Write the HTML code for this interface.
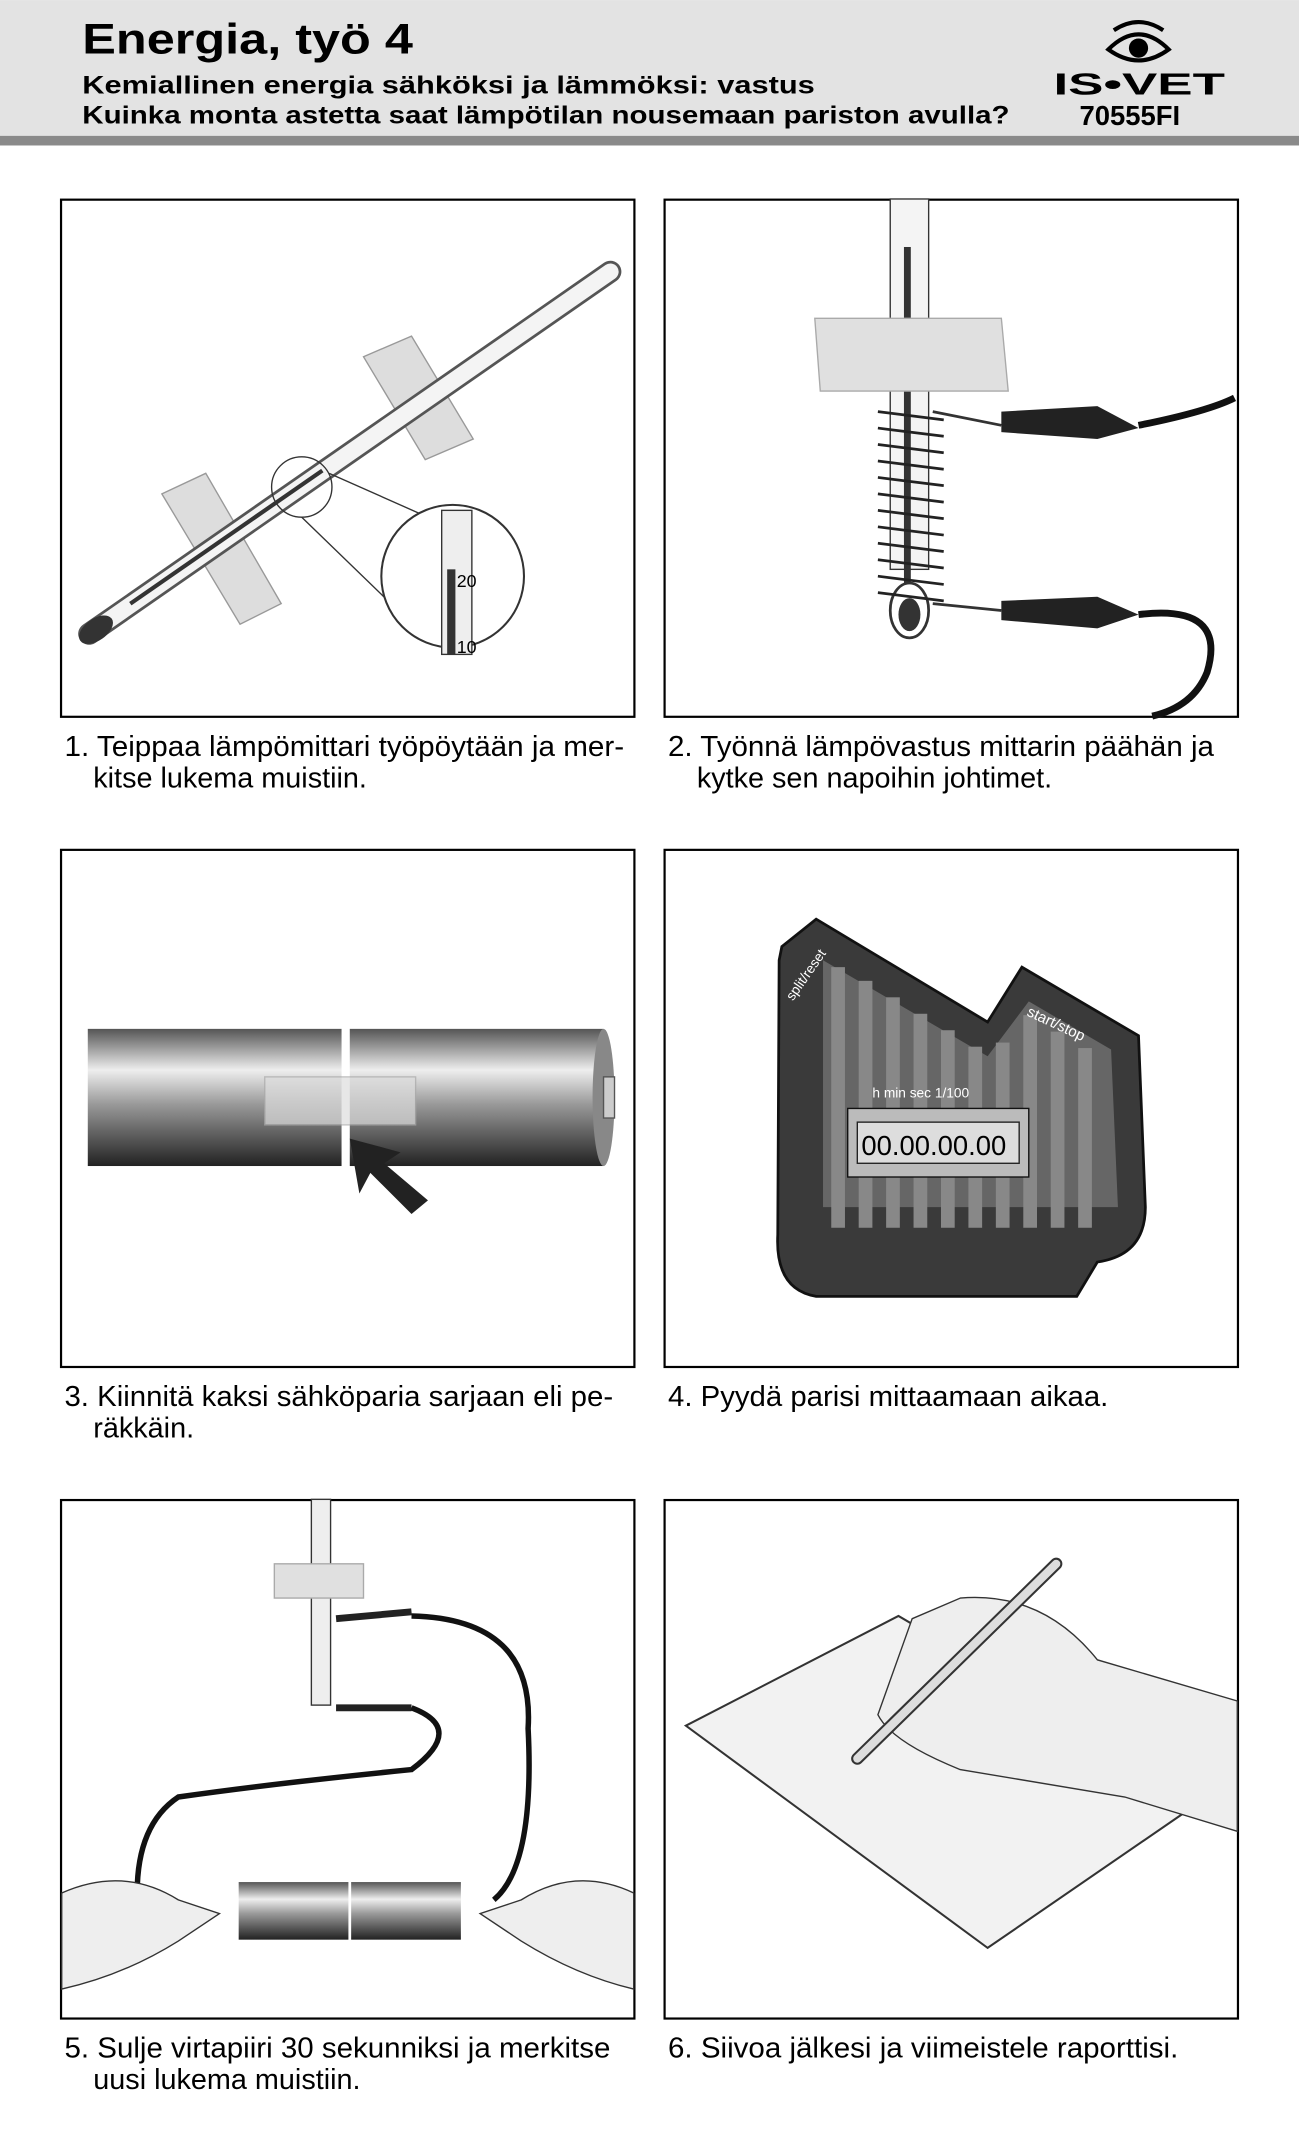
<!DOCTYPE html>
<html><head><meta charset="utf-8"><style>
html,body{margin:0;padding:0;background:#fff;}
svg{display:block;}
text{font-family:"Liberation Sans",Arial,sans-serif;}
</style></head><body>
<svg width="1299" height="2151" viewBox="0 0 947 1568" xmlns="http://www.w3.org/2000/svg">
<defs>
<linearGradient id="bat" x1="0" y1="0" x2="0" y2="1">
<stop offset="0" stop-color="#555"/><stop offset="0.3" stop-color="#eee"/><stop offset="0.55" stop-color="#999"/><stop offset="1" stop-color="#222"/>
</linearGradient>
</defs>
<rect x="0" y="0" width="947" height="100" fill="#e3e3e3"/>
<rect x="0" y="99" width="947" height="7" fill="#8a8a8a"/>
<text x="60" y="39" font-size="31" font-weight="bold" textLength="241" lengthAdjust="spacingAndGlyphs">Energia, työ 4</text>
<text x="60" y="68" font-size="18.5" font-weight="bold" textLength="534" lengthAdjust="spacingAndGlyphs">Kemiallinen energia sähköksi ja lämmöksi: vastus</text>
<text x="60" y="90" font-size="18.5" font-weight="bold" textLength="676" lengthAdjust="spacingAndGlyphs">Kuinka monta astetta saat lämpötilan nousemaan pariston avulla?</text>
<!-- logo -->
<path d="M808 36 Q830 14 852 36 Q830 52 808 36Z" fill="none" stroke="#000" stroke-width="3"/>
<circle cx="830" cy="35" r="7" fill="#000"/>
<path d="M812 22 Q830 10 848 22" fill="none" stroke="#000" stroke-width="3"/>
<text x="768" y="69" font-size="22" font-weight="bold" textLength="125" lengthAdjust="spacingAndGlyphs">IS•VET</text>
<text x="787" y="91" font-size="20" font-weight="bold">70555FI</text>

<g fill="none" stroke="#000" stroke-width="1.6">
<rect x="44.5" y="145.5" width="418" height="377"/>
<rect x="484.5" y="145.5" width="418" height="377"/>
<rect x="44.5" y="619.5" width="418" height="377"/>
<rect x="484.5" y="619.5" width="418" height="377"/>
<rect x="44.5" y="1093.5" width="418" height="378"/>
<rect x="484.5" y="1093.5" width="418" height="378"/>
</g>

<!-- panel 1 -->
<g>
<polygon points="118,360 150,345 205,440 175,455" fill="#ddd" stroke="#999"/>
<polygon points="265,260 300,245 345,320 310,335" fill="#ddd" stroke="#999"/>
<line x1="65" y1="462" x2="445" y2="198" stroke="#555" stroke-width="16" stroke-linecap="round"/>
<line x1="65" y1="462" x2="445" y2="198" stroke="#f4f4f4" stroke-width="12" stroke-linecap="round"/>
<ellipse cx="70" cy="459" rx="14" ry="8" transform="rotate(-35 70 459)" fill="#333"/>
<line x1="95" y1="440" x2="235" y2="343" stroke="#333" stroke-width="3"/>
<circle cx="220" cy="355" r="22" fill="none" stroke="#333"/>
<line x1="240" y1="345" x2="330" y2="385" stroke="#333"/>
<line x1="220" y1="377" x2="285" y2="440" stroke="#333"/>
<circle cx="330" cy="420" r="52" fill="#fff" stroke="#333" stroke-width="1.5"/>
<rect x="322" y="372" width="22" height="105" fill="#eee" stroke="#333"/>
<rect x="326" y="415" width="6" height="62" fill="#333"/>
<text x="333" y="428" font-size="13">20</text>
<text x="333" y="476" font-size="13">10</text>
</g>
<!-- panel 2 -->
<g>
<rect x="649" y="145" width="28" height="270" fill="#f4f4f4" stroke="#333"/>
<rect x="659" y="180" width="5" height="250" fill="#333"/>
<ellipse cx="663" cy="445" rx="14" ry="20" fill="#fff" stroke="#333" stroke-width="2"/>
<ellipse cx="663" cy="448" rx="8" ry="12" fill="#333"/>
<path d="M594 232 L730 232 L735 285 L598 285Z" fill="#e0e0e0" stroke="#aaa"/>
<g stroke="#222" stroke-width="2">
<line x1="640" y1="300" x2="688" y2="306"/><line x1="640" y1="312" x2="688" y2="318"/><line x1="640" y1="324" x2="688" y2="330"/><line x1="640" y1="336" x2="688" y2="342"/><line x1="640" y1="348" x2="688" y2="354"/><line x1="640" y1="360" x2="688" y2="366"/><line x1="640" y1="372" x2="688" y2="378"/><line x1="640" y1="384" x2="688" y2="390"/><line x1="640" y1="396" x2="688" y2="402"/><line x1="640" y1="408" x2="688" y2="414"/><line x1="640" y1="420" x2="688" y2="426"/><line x1="640" y1="432" x2="688" y2="438"/>
</g>
<path d="M680 300 L730 310" stroke="#333" stroke-width="2"/>
<path d="M680 440 L730 445" stroke="#333" stroke-width="2"/>
<path d="M730 300 L800 296 L830 312 L800 320 L730 315Z" fill="#222"/>
<path d="M730 438 L800 435 L830 448 L800 458 L730 452Z" fill="#222"/>
<path d="M830 310 Q880 300 900 290" stroke="#111" stroke-width="5" fill="none"/>
<path d="M830 448 Q895 440 880 490 Q870 515 840 522" stroke="#111" stroke-width="5" fill="none"/>
</g>
<!-- panel 3 -->
<g>
<rect x="64" y="750" width="185" height="100" fill="url(#bat)"/>
<rect x="255" y="750" width="185" height="100" fill="url(#bat)"/>
<ellipse cx="440" cy="800" rx="8" ry="50" fill="#888"/>
<rect x="440" y="785" width="8" height="30" fill="#ccc" stroke="#555"/>
<rect x="193" y="785" width="110" height="35" fill="#ddd" opacity="0.7" stroke="#aaa"/>
<path d="M300 885 L270 855 L262 870 L255 830 L292 840 L280 848 L312 875Z" fill="#222"/>
</g>
<!-- panel 4 -->
<g>
<path d="M570 690 L595 670 L720 745 L745 705 L830 755 L835 880 Q835 915 800 920 L785 945 L595 945 Q565 940 567 900 L568 700Z" fill="#3a3a3a" stroke="#111" stroke-width="2"/>
<path d="M600 700 L720 770 L750 730 L810 765 L815 880 L600 880Z" fill="#666"/>
<g fill="#888">
<rect x="606" y="705" width="10" height="190"/><rect x="626" y="715" width="10" height="180"/><rect x="646" y="727" width="10" height="168"/><rect x="666" y="739" width="10" height="156"/><rect x="686" y="751" width="10" height="144"/><rect x="706" y="763" width="10" height="132"/><rect x="726" y="760" width="10" height="135"/><rect x="746" y="740" width="10" height="155"/><rect x="766" y="752" width="10" height="143"/><rect x="786" y="764" width="10" height="131"/>
</g>
<rect x="618" y="808" width="132" height="50" fill="#bbb" stroke="#111"/>
<rect x="625" y="818" width="118" height="30" fill="#ddd" stroke="#222"/>
<text x="628" y="842" font-size="20">00.00.00.00</text>
<text x="636" y="800" font-size="10" fill="#fff">h   min   sec  1/100</text>
<text x="748" y="740" font-size="11" fill="#fff" transform="rotate(25 748 740)">start/stop</text>
<text x="578" y="730" font-size="10" fill="#fff" transform="rotate(-55 578 730)">split/reset</text>
</g>
<!-- panel 5 -->
<g>
<rect x="227" y="1093" width="14" height="150" fill="#eee" stroke="#333"/>
<path d="M200 1140 L265 1140 L265 1165 L200 1165Z" fill="#e0e0e0" stroke="#aaa"/>
<path d="M245 1180 L300 1175 M245 1245 L300 1245" stroke="#222" stroke-width="5"/>
<path d="M300 1178 Q390 1180 385 1260 Q390 1360 360 1385" stroke="#111" stroke-width="4" fill="none"/>
<path d="M300 1245 Q340 1260 300 1290 Q200 1300 130 1310 Q100 1330 100 1380" stroke="#111" stroke-width="4" fill="none"/>
<rect x="174" y="1372" width="80" height="42" fill="url(#bat)"/>
<rect x="256" y="1372" width="80" height="42" fill="url(#bat)"/>
<path d="M45 1380 Q90 1360 130 1385 L160 1395 L130 1415 Q90 1440 45 1450Z" fill="#eee" stroke="#333"/>
<path d="M462 1380 Q420 1360 380 1385 L350 1395 L380 1415 Q420 1440 462 1450Z" fill="#eee" stroke="#333"/>
</g>
<!-- panel 6 -->
<g>
<polygon points="500,1258 655,1178 880,1310 720,1420" fill="#f2f2f2" stroke="#333" stroke-width="1.5"/>
<path d="M700 1165 Q760 1160 800 1210 L902 1240 L902 1335 L820 1310 Q760 1300 700 1290 Q650 1270 640 1250 L665 1180Z" fill="#eee" stroke="#333"/>
<line x1="770" y1="1140" x2="625" y2="1282" stroke="#333" stroke-width="9" stroke-linecap="round"/>
<line x1="770" y1="1140" x2="625" y2="1282" stroke="#ddd" stroke-width="6" stroke-linecap="round"/>
</g>

<g font-size="21">
<text x="47" y="551" textLength="408" lengthAdjust="spacingAndGlyphs">1. Teippaa lämpömittari työpöytään ja mer-</text>
<text x="68" y="574">kitse lukema muistiin.</text>
<text x="487" y="551" textLength="398" lengthAdjust="spacingAndGlyphs">2. Työnnä lämpövastus mittarin päähän ja</text>
<text x="508" y="574">kytke sen napoihin johtimet.</text>
<text x="47" y="1025" textLength="400" lengthAdjust="spacingAndGlyphs">3. Kiinnitä kaksi sähköparia sarjaan eli pe-</text>
<text x="68" y="1048">räkkäin.</text>
<text x="487" y="1025" textLength="321" lengthAdjust="spacingAndGlyphs">4. Pyydä parisi mittaamaan aikaa.</text>
<text x="47" y="1500" textLength="398" lengthAdjust="spacingAndGlyphs">5. Sulje virtapiiri 30 sekunniksi ja merkitse</text>
<text x="68" y="1523">uusi lukema muistiin.</text>
<text x="487" y="1500" textLength="372" lengthAdjust="spacingAndGlyphs">6. Siivoa jälkesi ja viimeistele raporttisi.</text>
</g>
</svg>
</body></html>
